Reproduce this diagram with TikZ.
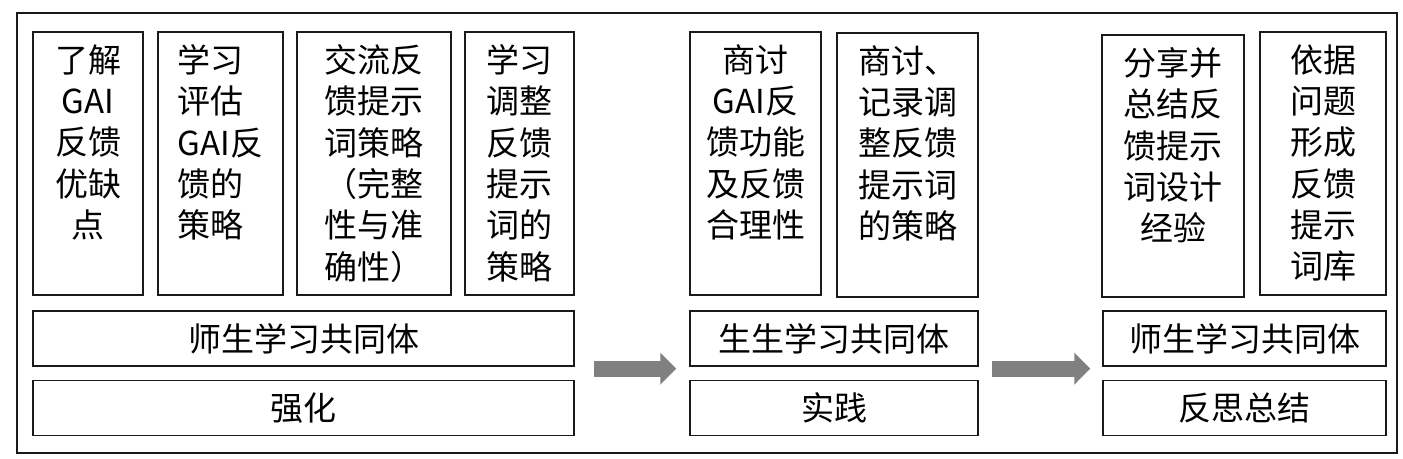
\documentclass[tikz,border=0pt]{standalone}
\usepackage{xcolor}
\usepackage{tikz}
\usetikzlibrary{positioning,arrows.meta}
\usepackage{fontspec}
\newfontfamily\cjk{Noto Sans CJK SC}
\definecolor{stagegray}{HTML}{808080}
\definecolor{framedark}{HTML}{1A1A1A}

\begin{document}
\begin{tikzpicture}[x=1pt,y=-1pt,
  frame/.style={draw=framedark,line width=1.4pt,inner sep=0pt},
  tallbox/.style={frame,minimum height=263},
  barbox/.style={frame,minimum height=55,font=\cjk\fontsize{33}{41}\selectfont},
  boxtext/.style={inner sep=0pt,font=\cjk\fontsize{33}{41.3}\selectfont},
  stagearrow/.style={draw=stagegray,line width=16pt,-{Triangle[length=16pt,width=31pt]}}]
  \useasboundingbox (0,0) rectangle (1403,458);
  \draw[framedark,line width=1.4pt] (17,13) rectangle (1397,453);

  \node[tallbox,minimum width=110] (a1) at (88,163.5) {};
  \node[tallbox,minimum width=125] (a2) at (220.5,163.5) {};
  \node[tallbox,minimum width=154] (a3) at (374,163.5) {};
  \node[tallbox,minimum width=109] (a4) at (519.5,163.5) {};
  \node[barbox,minimum width=541] (teamA) at (303.5,338.5) {师生学习共同体};
  \node[barbox,minimum width=541] (stageA) at (303.5,408) {强化};
  \node[boxtext,align=center,below=13pt of a1.north] (ta1) {了解\\GAI\\反馈\\优缺\\点};
  \node[boxtext,align=left,below=13pt of a2.north] (ta2) {学习\\评估\\GAI反\\馈的\\策略};
  \node[boxtext,align=left,below=13pt of a3.north] (ta3) {交流反\\馈提示\\词策略\\（完整\\性与准\\确性）};
  \node[boxtext,align=left,below=13pt of a4.north] (ta4) {学习\\调整\\反馈\\提示\\词的\\策略};

  \node[tallbox,minimum width=131] (b1) at (755.5,163.5) {};
  \node[tallbox,minimum width=141,minimum height=264] (b2) at (907.5,165) {};
  \node[barbox,minimum width=288] (teamB) at (834,338.5) {生生学习共同体};
  \node[barbox,minimum width=288] (stageB) at (834,408) {实践};
  \node[boxtext,align=center,below=13pt of b1.north] (tb1) {商讨\\GAI反\\馈功能\\及反馈\\合理性};
  \node[boxtext,align=left,below=13pt of b2.north] (tb2) {商讨、\\记录调\\整反馈\\提示词\\的策略};

  \node[tallbox,minimum width=142,minimum height=262] (c1) at (1173,166) {};
  \node[tallbox,minimum width=126] (c2) at (1323,163.5) {};
  \node[barbox,minimum width=283] (teamC) at (1244.5,338.5) {师生学习共同体};
  \node[barbox,minimum width=283] (stageC) at (1244.5,408) {反思总结};
  \node[boxtext,align=center,below=13pt of c1.north] (tc1) {分享并\\总结反\\馈提示\\词设计\\经验};
  \node[boxtext,align=center,below=13pt of c2.north] (tc2) {依据\\问题\\形成\\反馈\\提示\\词库};

  \draw[stagearrow] ([shift={(19,2)}]teamA.south east) -- ([shift={(-13,2)}]teamB.south west);
  \draw[stagearrow] ([shift={(13,2)}]teamB.south east) -- ([shift={(-12,2)}]teamC.south west);
\end{tikzpicture}
\end{document}
